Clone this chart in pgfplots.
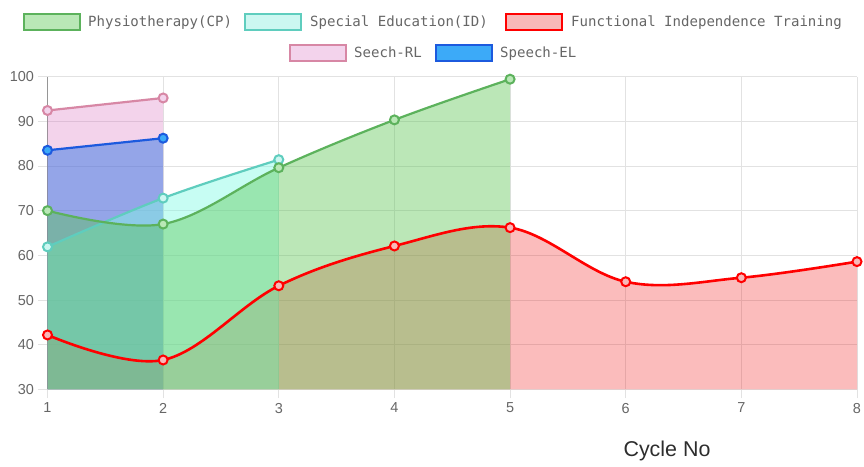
\documentclass[border=0pt]{standalone}
\usepackage{fontspec}
\setmainfont{Liberation Sans}
\newfontfamily\legfont{DejaVu Sans Mono}
\usepackage{pgfplots}
\pgfplotsset{compat=1.18}
\definecolor{gridc}{RGB}{226,226,226}
\definecolor{yaxc}{RGB}{150,150,150}
\definecolor{tickc}{RGB}{102,102,102}
\definecolor{labc}{RGB}{45,45,45}
\definecolor{physL}{RGB}{92,178,92}
\definecolor{physB}{RGB}{85,195,76}
\definecolor{physBox}{RGB}{185,232,182}
\definecolor{specL}{RGB}{95,205,190}
\definecolor{specB}{RGB}{130,250,228}
\definecolor{specBox}{RGB}{204,247,241}
\definecolor{funcL}{RGB}{255,0,0}
\definecolor{funcB}{RGB}{240,15,15}
\definecolor{funcBox}{RGB}{248,184,184}
\definecolor{rlL}{RGB}{215,135,165}
\definecolor{rlB}{RGB}{215,110,190}
\definecolor{rlBox}{RGB}{243,211,236}
\definecolor{elL}{RGB}{28,90,222}
\definecolor{elB}{RGB}{53,120,228}
\definecolor{elBox}{RGB}{60,170,248}
\begin{document}
\begin{tikzpicture}
\useasboundingbox (0,0) rectangle (864bp,467bp);
\begin{axis}[
  at={(47.5bp,77.5bp)}, anchor=south west,
  width=809.5bp, height=313bp, scale only axis,
  xmin=1, xmax=8, ymin=30, ymax=100,
  xtick={1,...,8}, ytick={30,40,...,100},
  grid=major, major grid style={draw=gridc, line width=0.8bp},
  axis x line*=bottom, axis y line*=left,
  x axis line style={draw=gridc, line width=1bp},
  y axis line style={draw=yaxc, line width=1bp},
  tick align=outside, major tick length=9bp,
  major tick style={draw=gridc, line width=0.8bp},
  /pgf/number format/assume math mode=true,
  ticklabel style={font=\fontsize{14.5}{16}\selectfont, text=tickc},
  yticklabel style={xshift=-1bp},
  xticklabel style={yshift=-1bp},
  axis on top=false,
  every axis plot/.append style={smooth, tension=0.6},
  line/.style={line width=2.2bp, mark=*, mark size=4.5bp},
]
% ---- fills (bottom to top) ----
\addplot[draw=none, fill=rlB, fill opacity=0.3, forget plot]
  coordinates {(1,92.4) (2,95.2)} \closedcycle;
\addplot[draw=none, fill=elB, fill opacity=0.5, forget plot]
  coordinates {(1,83.5) (2,86.2)} \closedcycle;
\addplot[draw=none, fill=funcB, fill opacity=0.28, forget plot]
  coordinates {(1,42.2) (2,36.6) (3,53.2) (4,62.1) (5,66.2) (6,54.1) (7,55.0) (8,58.6)} \closedcycle;
\addplot[draw=none, fill=specB, fill opacity=0.45, forget plot]
  coordinates {(1,61.9) (2,72.8) (3,81.4)} \closedcycle;
\addplot[draw=none, fill=physB, fill opacity=0.4, forget plot]
  coordinates {(1,70.0) (2,67.0) (3,79.6) (4,90.3) (5,99.4)} \closedcycle;
% ---- lines ----
% Seech-RL
\addplot[line, draw=rlL, mark options={fill=rlBox, draw=rlL, line width=2bp}]
  coordinates {(1,92.4) (2,95.2)};
% Speech-EL
\addplot[line, draw=elL, mark options={fill=elBox, draw=elL, line width=2bp}]
  coordinates {(1,83.5) (2,86.2)};
% Functional Independence Training
\addplot[line, draw=funcL, line width=2.6bp, mark options={fill=funcBox, draw=funcL, line width=2bp}]
  coordinates {(1,42.2) (2,36.6) (3,53.2) (4,62.1) (5,66.2) (6,54.1) (7,55.0) (8,58.6)};
% Special Education
\addplot[line, draw=specL, mark options={fill=specBox, draw=specL, line width=2bp}]
  coordinates {(1,61.9) (2,72.8) (3,81.4)};
% Physiotherapy
\addplot[line, draw=physL, mark options={fill=physBox, draw=physL, line width=2bp}]
  coordinates {(1,70.0) (2,67.0) (3,79.6) (4,90.3) (5,99.4)};
\end{axis}
% x label
\node[font=\fontsize{21.5}{24}\selectfont, text=labc] at (667bp,16bp) {Cycle No};
% legend
\tikzset{legtext/.style={anchor=base west, inner sep=0pt, font=\legfont\fontsize{14.1}{16}\selectfont, text=tickc}}
\draw[line width=2bp, draw=physL, fill=physBox] (24bp,437bp) rectangle (80bp,453bp);
\node[legtext] at (88bp,440bp) {Physiotherapy(CP)};
\draw[line width=2bp, draw=specL, fill=specBox] (245bp,437bp) rectangle (301bp,453bp);
\node[legtext] at (310bp,440bp) {Special Education(ID)};
\draw[line width=2bp, draw=funcL, fill=funcBox] (506bp,437bp) rectangle (562bp,453bp);
\node[legtext] at (571bp,440bp) {Functional Independence Training};
\draw[line width=2bp, draw=rlL, fill=rlBox] (290bp,406bp) rectangle (346bp,422bp);
\node[legtext] at (354bp,409bp) {Seech-RL};
\draw[line width=2bp, draw=elL, fill=elBox] (436bp,406bp) rectangle (492bp,422bp);
\node[legtext] at (500bp,409bp) {Speech-EL};
\end{tikzpicture}
\end{document}
